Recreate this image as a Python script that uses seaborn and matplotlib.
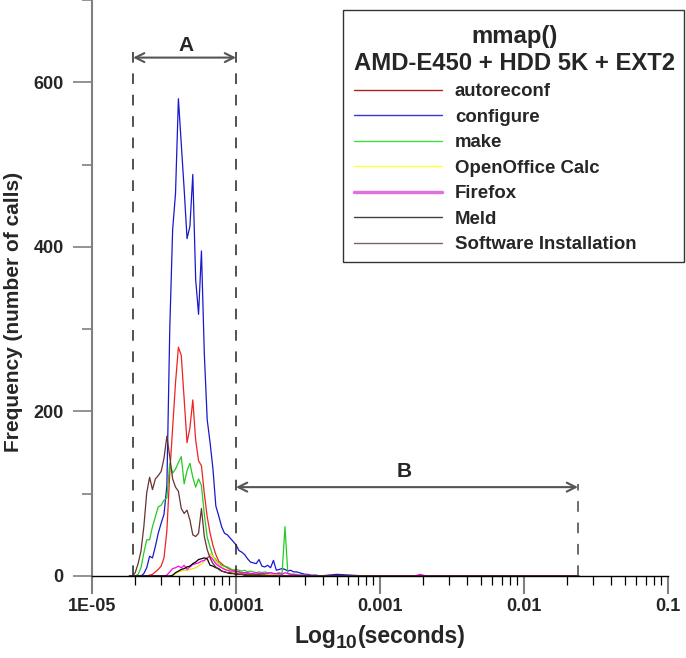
import numpy as np
import pandas as pd
import matplotlib
matplotlib.use("Agg")
import matplotlib.pyplot as plt
import seaborn as sns
from matplotlib.lines import Line2D
from matplotlib.patches import Rectangle
from matplotlib.ticker import FixedLocator, FixedFormatter, LogLocator, NullFormatter, MultipleLocator

# ---------------- data (log10 of seconds, histogram counts) ----------------
bin_start = -4.74
bin_step = 0.02
tail_log_x = [-3.30, -3.10, -2.76, -2.72, -2.68, -1.62]

autoreconf = [0, 0, 0, 0, 0, 0, 0, 1, 2, 5,
              8, 12, 22, 55, 125, 180, 235, 278, 268, 215,
              162, 180, 214, 165, 140, 134, 100, 72, 52, 37,
              26, 18, 15, 12, 10, 8, 7, 6, 5, 4,
              4, 3, 3, 2, 2, 2, 2, 1, 1, 1,
              1, 1, 1, 1, 0, 0, 0, 0, 0, 0,
              0, 0, 0, 0, 0, 0, 0]
configure = [0, 0, 0, 0, 0, 3, 10, 24, 22, 36,
             52, 64, 75, 110, 300, 421, 465, 580, 525, 470,
             410, 425, 488, 360, 318, 395, 270, 190, 162, 130,
             85, 73, 60, 52, 50, 46, 42, 38, 31, 29,
             26, 21, 17, 16, 15, 20, 12, 11, 13, 10,
             19, 7, 8, 9, 8, 6, 7, 5, 5, 4,
             3, 2, 2, 1, 1, 1, 0]
make = [0, 0, 0, 2, 10, 28, 44, 44, 60, 72,
        84, 86, 92, 95, 137, 125, 130, 138, 145, 112,
        128, 137, 120, 108, 118, 110, 75, 47, 35, 24,
        20, 15, 13, 12, 11, 9, 7, 8, 7, 6,
        7, 5, 6, 5, 4, 5, 4, 5, 4, 4,
        3, 3, 4, 3, 60, 3, 2, 2, 2, 1,
        1, 1, 1, 0, 0, 0, 0]
openoffice = [0, 0, 0, 0, 0, 0, 0, 0, 0, 0,
              0, 0, 0, 0, 0, 0, 3, 5, 6, 7,
              7, 8, 9, 10, 12, 15, 18, 22, 27, 24,
              18, 14, 11, 9, 7, 5, 4, 4, 3, 3,
              2, 2, 2, 2, 1, 1, 1, 1, 1, 1,
              1, 1, 0, 0, 0, 0, 0, 0, 0, 0,
              0, 0, 0, 0, 0, 0, 0]
firefox = [0, 0, 0, 0, 0, 0, 0, 0, 0, 0,
           0, 0, 0, 1, 5, 9, 10, 12, 10, 13,
           8, 11, 14, 15, 16, 18, 19, 22, 24, 20,
           15, 12, 10, 8, 7, 6, 6, 5, 5, 4,
           4, 4, 3, 3, 4, 3, 3, 3, 3, 4,
           3, 3, 3, 2, 4, 3, 2, 2, 1, 1,
           1, 1, 1, 0, 0, 0, 0]
meld = [0, 0, 0, 0, 0, 0, 0, 0, 0, 0,
        0, 0, 0, 0, 0, 1, 4, 6, 8, 9,
        11, 12, 15, 17, 20, 21, 22, 21, 13, 12,
        10, 9, 6, 5, 4, 3, 3, 2, 2, 2,
        1, 1, 1, 1, 1, 1, 0, 0, 0, 0,
        0, 0, 0, 0, 0, 0, 0, 0, 0, 0,
        0, 0, 0, 0, 0, 0, 0]
software = [0, 0, 4, 15, 30, 60, 101, 120, 105, 118,
            122, 127, 143, 170, 145, 118, 108, 103, 82, 76,
            80, 68, 50, 48, 52, 82, 48, 32, 22, 15,
            11, 8, 6, 5, 4, 4, 3, 3, 2, 2,
            2, 1, 1, 1, 1, 1, 1, 1, 0, 0,
            0, 0, 0, 0, 0, 0, 0, 0, 0, 0,
            0, 0, 0, 0, 0, 0, 0]

tails = {
    "autoreconf": [0, 0, 0, 0, 0, 0],
    "configure": [2, 0, 0, 0, 0, 0],
    "make": [0, 0, 0, 0, 0, 0],
    "OpenOffice Calc": [0, 0, 0, 0, 0, 0],
    "Firefox": [0, 0, 0, 2, 0, 0],
    "Meld": [0, 0, 0, 0, 0, 0],
    "Software Installation": [0, 0, 0, 0, 0, 0],
}

names = ["autoreconf", "configure", "make", "OpenOffice Calc", "Firefox", "Meld", "Software Installation"]
series = [autoreconf, configure, make, openoffice, firefox, meld, software]
line_colors = ["#ee2222", "#1818cc", "#22cc22", "#e8e800", "#ff00ff", "#000000", "#663333"]
legend_colors = ["#b02020", "#3838c0", "#40e040", "#ffff40", "#e070e0", "#404040", "#806060"]
legend_widths = [1, 1, 1, 1, 2.5, 1, 1]

# region markers (seconds)
a_left, a_right, b_right = 1.93e-5, 1e-4, 0.0237

# ---------------- plot ----------------
sns.set_theme(style="ticks")
plt.rcParams["font.family"] = ["Liberation Sans", "DejaVu Sans"]
plt.rcParams["font.weight"] = "bold"

W, H = 686, 658
fig = plt.figure(figsize=(W / 100, H / 100), dpi=100)
fig.patch.set_facecolor("white")
ax = fig.add_axes([92 / W, 82 / H, (668 - 92) / W, 576 / H])
ax.set_xscale("log")

rows = []
for name, vals in zip(names, series):
    lx = list(bin_start + bin_step * np.arange(len(vals))) + tail_log_x
    vv = list(vals) + tails[name]
    for a, b in zip(lx, vv):
        rows.append((name, 10 ** a, b))
df = pd.DataFrame(rows, columns=["program", "seconds", "calls"])

for name, col in zip(names, line_colors):
    sub = df[df["program"] == name]
    sns.lineplot(data=sub, x="seconds", y="calls", ax=ax, color=col, lw=0.9,
                 legend=False, estimator=None, sort=True)

ax.set_xlabel("")
ax.set_ylabel("")
ax.set_xlim(1e-5, 0.1)
ax.set_ylim(0, 700)

# region markers
dash = (0, (7, 7))
ax.plot([a_left, a_left], [0, 640], ls=dash, color="#222222", lw=1.1)
ax.plot([a_right, a_right], [0, 640], ls=dash, color="#222222", lw=1.1)
ax.plot([b_right, b_right], [0, 112], ls=dash, color="#444444", lw=1.1)
arrow_kw = dict(arrowstyle="<->", color="#555555", lw=1.5, shrinkA=0, shrinkB=0, mutation_scale=16)
ax.annotate("", xy=(a_right, 630), xytext=(a_left, 630), arrowprops=arrow_kw)
ax.annotate("", xy=(b_right, 108), xytext=(a_right, 108), arrowprops=arrow_kw)
ax.text(10 ** -4.347, 645, "A", ha="center", va="center", fontsize=15, fontweight="bold")
ax.text(10 ** -2.833, 127, "B", ha="center", va="center", fontsize=15, fontweight="bold")

# axes styling
for s in ["top", "right"]:
    ax.spines[s].set_visible(False)
ax.spines["left"].set_color("#808080")
ax.spines["left"].set_linewidth(1.5)
ax.spines["bottom"].set_color("#000000")
ax.spines["bottom"].set_linewidth(1.0)

ax.xaxis.set_major_locator(FixedLocator([1e-5, 1e-4, 1e-3, 1e-2, 1e-1]))
ax.xaxis.set_major_formatter(FixedFormatter(["1E-05", "0.0001", "0.001", "0.01", "0.1"]))
ax.xaxis.set_minor_locator(LogLocator(base=10, subs=np.arange(2, 10)))
ax.xaxis.set_minor_formatter(NullFormatter())
ax.yaxis.set_major_locator(MultipleLocator(200))
ax.yaxis.set_minor_locator(MultipleLocator(100))

ax.tick_params(axis="x", which="major", direction="out", length=13, width=1.5,
               color="#808080", pad=3, labelsize=13)
ax.tick_params(axis="x", which="minor", direction="out", length=6.5, width=0.9, color="black")
ax.tick_params(axis="y", which="major", direction="out", length=13.5, width=1.2,
               color="#808080", pad=7, labelsize=13)
ax.tick_params(axis="y", which="minor", direction="out", length=7, width=1.2, color="#808080")
for lab in ax.get_xticklabels() + ax.get_yticklabels():
    lab.set_fontweight("bold")

fig.text(14 / W, 1 - 312 / H, "Frequency (number of calls)", rotation=90,
         ha="center", va="center", fontsize=15, fontweight="bold")

# x label: "Log" + subscript "10" + "(seconds)", centred at x=379 px
fig.canvas.draw()
renderer = fig.canvas.get_renderer()
y_lab = 1 - 637 / H
parts = [("Log", 16.5, 0), ("10", 14, -6), ("(seconds)", 16.5, 0)]
tmp = [fig.text(0, y_lab, s, fontsize=fs, fontweight="bold") for s, fs, dy in parts]
widths = [t.get_window_extent(renderer).width for t in tmp]
for t in tmp:
    t.remove()
x_px = 380 - sum(widths) / 2
for (s, fs, dy), w in zip(parts, widths):
    fig.text(x_px / W, y_lab + dy / H, s, fontsize=fs, fontweight="bold",
             ha="left", va="center")
    x_px += w

# legend box (drawn separately) and legend entries
ax.add_patch(Rectangle((343 / W, 1 - 262 / H), (684 - 343) / W, 252 / H,
                       transform=fig.transFigure, facecolor="white", edgecolor="#333333",
                       lw=1.0, clip_on=False, zorder=4.9))
handles = [Line2D([], [], color=c, lw=w) for c, w in zip(legend_colors, legend_widths)]
leg = ax.legend(handles, names, title="mmap()\nAMD-E450 + HDD 5K + EXT2",
                loc="upper left", bbox_to_anchor=(346 / W, 1 - 17 / H),
                bbox_transform=fig.transFigure, borderaxespad=0, frameon=False,
                borderpad=0.45, alignment="left",
                handlelength=4.7, handletextpad=0.7, labelspacing=0.455,
                prop={"weight": "bold", "size": 13.4},
                title_fontproperties={"weight": "bold", "size": 17.2})
leg.get_title().set_multialignment("center")
leg.set_zorder(5)

fig.savefig("out.png", dpi=100, facecolor="white")
